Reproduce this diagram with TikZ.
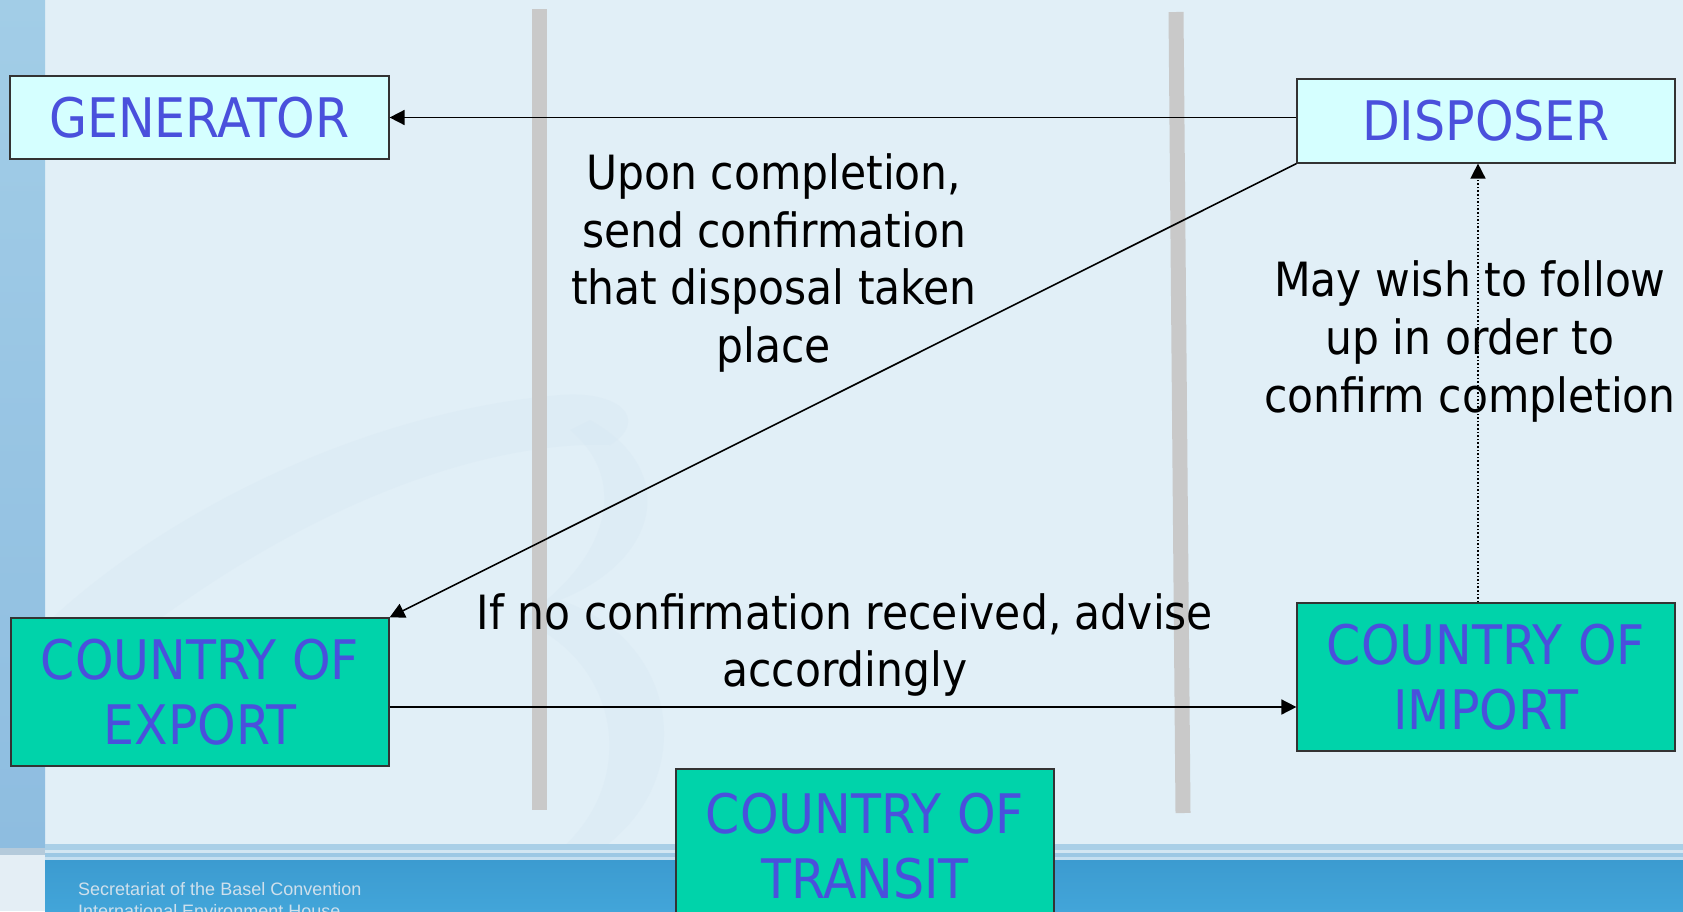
\documentclass[tikz,border=0pt]{standalone}
\usepackage{fontspec}
\setmainfont{DejaVu Sans Condensed}
\newfontfamily\footfont{Liberation Sans}
\usetikzlibrary{arrows.meta}

\definecolor{pagebg}{HTML}{E1EFF7}
\definecolor{stripetop}{HTML}{A2CDE7}
\definecolor{stripebot}{HTML}{8EBDE0}
\definecolor{logoshade}{HTML}{D7E7F3}
\definecolor{barcol}{HTML}{C9C9C9}
\definecolor{lightcyan}{HTML}{D5FFFF}
\definecolor{teal}{HTML}{00D3AA}
\definecolor{labelblue}{HTML}{4A50DC}
\definecolor{bandblue}{HTML}{42A5D9}
\definecolor{bandtop}{HTML}{3C9BD0}
\definecolor{foottext}{HTML}{CFE0EC}
\definecolor{rimA}{HTML}{A9CFE7}
\definecolor{rimB}{HTML}{D2E6F2}
\definecolor{rimC}{HTML}{9CC8E4}
\definecolor{rimD}{HTML}{C4DFF0}
\definecolor{cornerline}{HTML}{B4CADB}
\definecolor{cornerfill}{HTML}{E4EEF5}

\tikzset{
  partybox/.style={draw=black!80, line width=1.2pt, inner sep=0pt,
    text=labelblue, align=center, font=\fontsize{54.5}{65}\selectfont},
  lightbox/.style={partybox, fill=lightcyan},
  tealbox/.style={partybox, fill=teal},
  note/.style={inner sep=0pt, align=center, text=black,
    font=\fontsize{47.2}{57.6}\selectfont},
  flow/.style={line width=1.6pt, -{Triangle[length=15pt,width=15pt]}},
  followup/.style={flow, dash pattern=on 1.6pt off 2pt},
  divider/.style={line width=15pt, barcol, line cap=butt},
}

\begin{document}
\begin{tikzpicture}[x=1pt,y=-1pt]
\useasboundingbox (0,0) rectangle (1683,911);
\begin{scope}
\clip (0,0) rectangle (1683,911);

% page background and left stripe
\fill[pagebg] (0,0) rectangle (1683,911);
\shade[top color=stripetop, bottom color=stripebot] (0,0) rectangle (45,848);

% faint watermark swooshes
\fill[logoshade, opacity=0.35]
  (50,620) .. controls (180,500) and (380,410) .. (560,395)
  .. controls (620,390) and (650,420) .. (610,445)
  .. controls (470,440) and (260,520) .. (60,700) -- cycle;
\fill[logoshade, opacity=0.35]
  (590,420) .. controls (680,470) and (660,560) .. (560,600)
  .. controls (680,640) and (700,780) .. (600,850)
  -- (560,850) .. controls (640,780) and (620,660) .. (520,620)
  .. controls (610,560) and (630,480) .. (570,430) -- cycle;

% footer band
\fill[rimA] (45,844) rectangle (1683,850);
\fill[rimB] (45,850) rectangle (1683,853);
\fill[rimC] (45,853) rectangle (1683,857);
\fill[rimD] (45,857) rectangle (1683,860);
\shade[top color=bandtop, bottom color=bandblue] (45,860) rectangle (1683,911);
\fill[cornerline] (0,848) rectangle (45,855);
\fill[cornerfill] (0,855) rectangle (45,911);
\node[anchor=base west, inner sep=0pt, text=foottext,
      font=\footfont\fontsize{18}{22}\selectfont] (footA) at (78,895)
  {Secretariat of the Basel Convention};
\node[anchor=base west, inner sep=0pt, text=foottext,
      font=\footfont\fontsize{18}{22}\selectfont] (footB) at (78,917)
  {International Environment House};

% border dividers
\draw[divider] (539.5,9) -- (539.5,810);
\draw[divider] (1176,12) -- (1183,813);

% parties
\node[lightbox, minimum width=379pt, minimum height=83pt] (gen) at (199.5,117.5) {GENERATOR};
\node[lightbox, minimum width=378pt, minimum height=84pt] (disp) at (1486,121) {DISPOSER};
\node[tealbox, minimum width=378pt, minimum height=148pt] (exp) at (200,692) {COUNTRY OF\\EXPORT};
\node[tealbox, minimum width=378pt, minimum height=148pt] (imp) at (1486,677) {COUNTRY OF\\IMPORT};
\node[tealbox, minimum width=378pt, minimum height=154pt] (tra) at (865,846) {COUNTRY OF\\TRANSIT};

% notes
\node[note] (n1) at (774,263) {Upon completion,\\send confirmation\\that disposal taken\\place};
\node[note] (n2) at (1470,341.5) {May wish to follow\\up in order to\\confirm completion};
\node[note] (n3) at (845,645) {If no confirmation received, advise\\accordingly};

% messages
\draw[flow] (disp.west |- gen.east) -- (gen.east);
\draw[flow] (disp.south west) -- (exp.north east);
\coordinate (advise) at ([yshift=-15pt]exp.east);
\draw[flow] (advise) -- (advise -| imp.west);
\draw[followup] ([xshift=-8pt]imp.north) -- ([xshift=-8pt]disp.south);
\end{scope}
\end{tikzpicture}
\end{document}
